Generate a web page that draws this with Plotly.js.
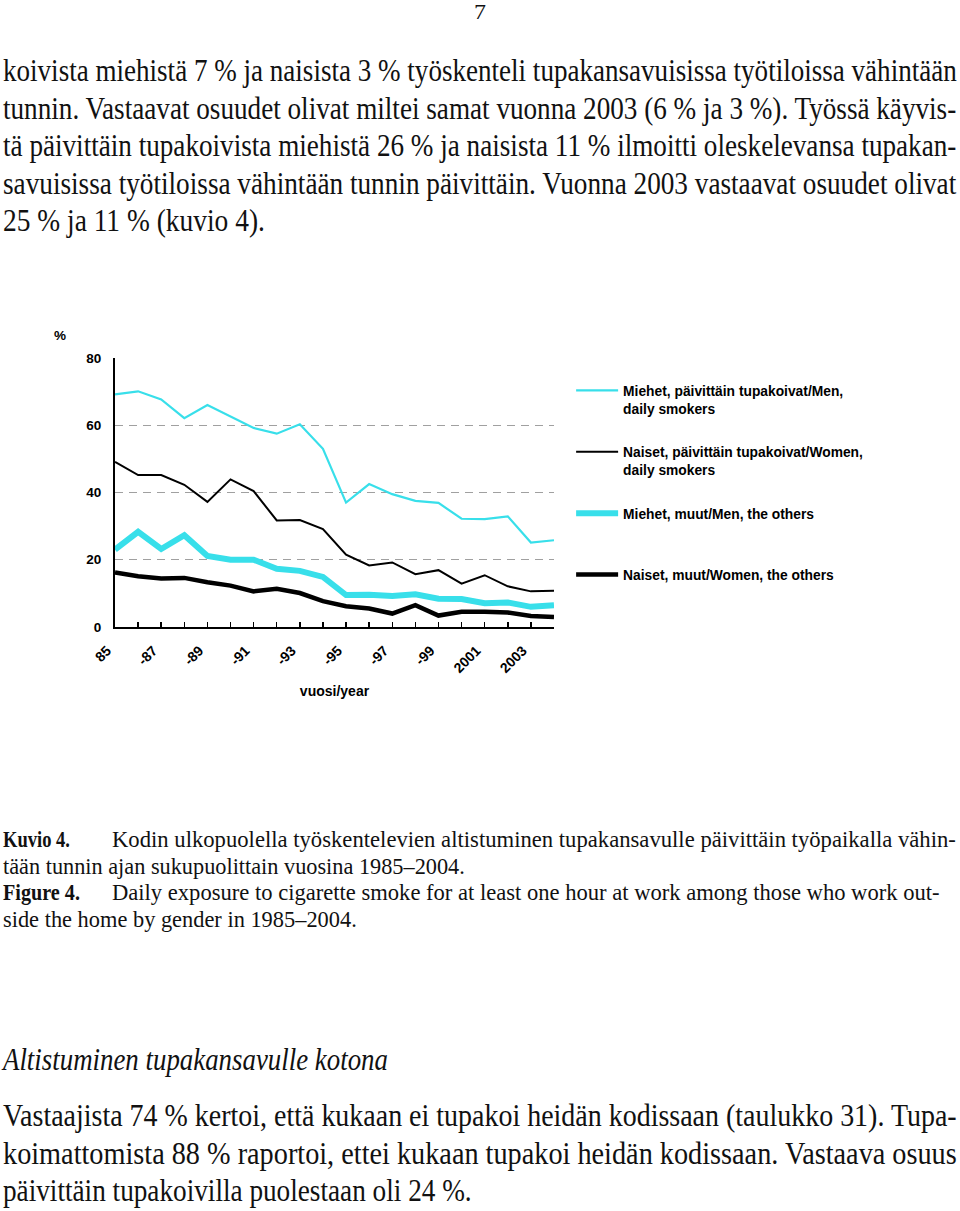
<!DOCTYPE html>
<html><head><meta charset="utf-8">
<script src="https://cdn.plot.ly/plotly-3.0.1.min.js"></script>
<style>
html,body{margin:0;padding:0;background:#fff;}
#page{position:relative;width:960px;height:1211px;overflow:hidden;background:#fff;}
#plot{position:absolute;left:0;top:0;width:960px;height:760px;}
#txt{position:absolute;left:0;top:0;pointer-events:none;}
</style></head><body>
<div id="page"><div id="plot"></div><svg id="txt" width="960" height="1211" xmlns="http://www.w3.org/2000/svg"></svg></div>
<script>
// ---------- data ----------
const years = [1985,1986,1987,1988,1989,1990,1991,1992,1993,1994,1995,1996,1997,1998,1999,2000,2001,2002,2003,2004];
const menDaily   = [69.2,70.1,67.7,62.1,66.0,62.5,59.2,57.5,60.3,53.0,37.0,42.5,39.5,37.5,36.9,32.2,32.1,32.9,25.1,25.8];
const womenDaily = [49.1,45.2,45.2,42.3,37.2,43.9,40.4,31.7,31.8,29.1,21.5,18.3,19.2,15.7,16.9,12.9,15.4,12.1,10.6,10.8];
const menOther   = [23.0,28.3,23.2,27.3,21.1,20.0,20.0,17.3,16.7,14.9,9.5,9.6,9.2,9.7,8.4,8.3,7.1,7.3,6.0,6.5];
const womenOther = [16.2,15.1,14.4,14.6,13.3,12.3,10.6,11.4,10.1,7.7,6.2,5.5,4.0,6.5,3.4,4.5,4.5,4.3,3.3,3.0];
const seriesNames = [
  'Miehet, päivittäin tupakoivat/Men,<br>daily smokers',
  'Naiset, päivittäin tupakoivat/Women,<br>daily smokers',
  'Miehet, muut/Men, the others<br>\u00a0',
  'Naiset, muut/Women, the others<br>\u00a0'
];
const tickYears = [1985,1987,1989,1991,1993,1995,1997,1999,2001,2003];
const tickLabels = ['85','-87','-89','-91','-93','-95','-97','-99','2001','2003'];
const yTicks = [0,20,40,60,80];

const CYAN = '#38dfea';
const SANS = '"Liberation Sans", Arial, Helvetica, sans-serif';
const tfont = {family: SANS, size: 13.5, color: '#000', weight: 'bold'};
const lfont = {family: SANS, size: 13.8, color: '#000', weight: 'bold'};
const xfont = {family: SANS, size: 14, color: '#000', weight: 'bold'};

const traces = [
  {y: menDaily,   color: CYAN,   width: 2.2},
  {y: womenDaily, color: '#000', width: 2},
  {y: menOther,   color: CYAN,   width: 6},
  {y: womenOther, color: '#000', width: 4.5}
].map((s, i) => ({
  type: 'scatter', mode: 'lines', x: years, y: s.y, name: seriesNames[i],
  legendgroup: 'g' + i,
  line: {color: s.color, width: s.width},
  hoverinfo: 'skip'
}));

const layout = {
  width: 960, height: 760,
  margin: {l: 115, r: 406, t: 358, b: 133},
  paper_bgcolor: 'rgba(0,0,0,0)', plot_bgcolor: 'rgba(0,0,0,0)',
  font: tfont,
  showlegend: true,
  legend: {x: 1.039, xanchor: 'left', y: 0.937, yanchor: 'top', valign: 'top',
           font: lfont, itemwidth: 42, tracegroupgap: 22.5, bgcolor: 'rgba(0,0,0,0)',
           itemclick: false, itemdoubleclick: false},
  xaxis: {range: [1985, 2004], tickvals: tickYears, ticktext: tickLabels, tickangle: -45,
          ticks: 'inside', ticklen: 5, tickwidth: 1.5, tickcolor: '#000',
          minor: {dtick: 1, tick0: 1985, ticks: 'inside', ticklen: 5, tickwidth: 1.5, tickcolor: '#000', showgrid: false},
          showline: true, linecolor: '#000', linewidth: 2, showgrid: false, zeroline: false,
          tickfont: xfont, ticklabelstandoff: 8, ticklabelshift: -8,
          automargin: false, fixedrange: true,
          title: {text: 'vuosi/year', font: xfont, standoff: 11}},
  yaxis: {range: [0, 80], tickvals: yTicks, ticks: '', showline: true, linecolor: '#000', linewidth: 2,
          showgrid: true, gridcolor: '#a0a0a0', griddash: '8px,6px', gridwidth: 1, zeroline: false,
          tickfont: tfont, ticklabelstandoff: 9, automargin: false, fixedrange: true},
  annotations: [{text: '%', xref: 'paper', yref: 'paper', x: -0.125, y: 1.082, showarrow: false,
                 font: tfont, xanchor: 'center', yanchor: 'middle'}]
};
Plotly.newPlot('plot', traces, layout, {displayModeBar: false, staticPlot: true});

// ---------- page text ----------
const NS = 'http://www.w3.org/2000/svg';
const svg = document.getElementById('txt');
const SERIF = '"Liberation Serif", "Times New Roman", Times, serif';
function addLine(o) {
  const t = document.createElementNS(NS, 'text');
  t.textContent = o.text;
  t.setAttribute('font-family', SERIF);
  t.setAttribute('font-size', o.size);
  if (o.weight) t.setAttribute('font-weight', o.weight);
  if (o.style) t.setAttribute('font-style', o.style);
  t.setAttribute('fill', '#111');
  t.setAttribute('x', 0); t.setAttribute('y', 0);
  svg.appendChild(t);
  let sx = o.scale || 1;
  if (o.x1 != null) {
    const w = t.getComputedTextLength();
    sx = (o.x1 - o.x0) / w;
  }
  t.setAttribute('transform', `translate(${o.x0},${o.y}) scale(${sx},1)`);
}
addLine({text: '7', x0: 474, x1: 486, y: 19, size: 22});
const para1 = [
  'koivista miehistä 7 % ja naisista 3 % työskenteli tupakansavuisissa työtiloissa vähintään',
  'tunnin. Vastaavat osuudet olivat miltei samat vuonna 2003 (6 % ja 3 %). Työssä käyvis-',
  'tä päivittäin tupakoivista miehistä 26 % ja naisista 11 % ilmoitti oleskelevansa tupakan-',
  'savuisissa työtiloissa vähintään tunnin päivittäin. Vuonna 2003 vastaavat osuudet olivat',
  '25 % ja 11 % (kuvio 4).'
];
const para1End = [957, 957, 957, 957, 265];
para1.forEach((s, i) => addLine({text: s, x0: 3, x1: para1End[i], y: 81 + i * 37.5, size: 31}));

addLine({text: 'Kuvio 4.', x0: 3, x1: 70, y: 847, size: 23, weight: 'bold'});
addLine({text: 'Kodin ulkopuolella työskentelevien altistuminen tupakansavulle päivittäin työpaikalla vähin-', x0: 112, x1: 956, y: 847, size: 23});
addLine({text: 'tään tunnin ajan sukupuolittain vuosina 1985–2004.', x0: 3, x1: 465, y: 873.5, size: 23});
addLine({text: 'Figure 4.', x0: 3, x1: 80, y: 900, size: 23, weight: 'bold'});
addLine({text: 'Daily exposure to cigarette smoke for at least one hour at work among those who work out-', x0: 112, x1: 940, y: 900, size: 23});
addLine({text: 'side the home by gender in 1985–2004.', x0: 3, x1: 357, y: 926.5, size: 23});

addLine({text: 'Altistuminen tupakansavulle kotona', x0: 3, x1: 388, y: 1070, size: 31, style: 'italic'});
const para2 = [
  'Vastaajista 74 % kertoi, että kukaan ei tupakoi heidän kodissaan (taulukko 31). Tupa-',
  'koimattomista 88 % raportoi, ettei kukaan tupakoi heidän kodissaan. Vastaava osuus',
  'päivittäin tupakoivilla puolestaan oli 24 %.'
];
const para2End = [957, 957, 472];
para2.forEach((s, i) => addLine({text: s, x0: 3, x1: para2End[i], y: 1126 + i * 37.5, size: 31}));
</script>
</body></html>
